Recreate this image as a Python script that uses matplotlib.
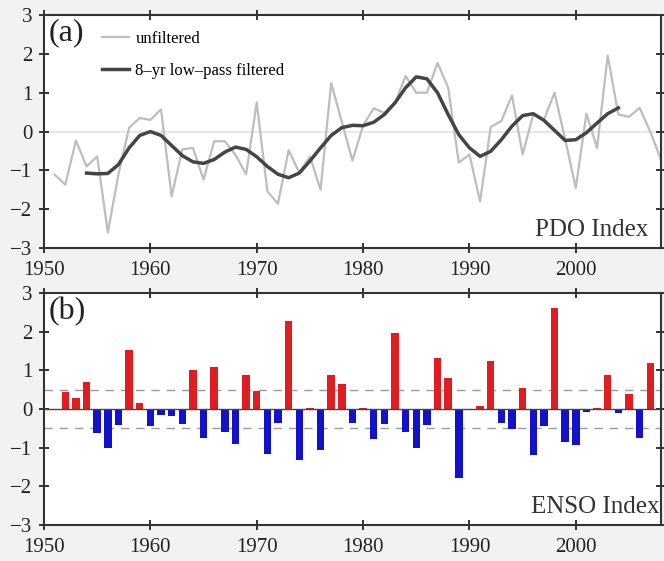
#!/usr/bin/env python3
"""PDO index (filtered / unfiltered) and ENSO index bars, two stacked panels."""
import matplotlib

matplotlib.use("Agg")
import matplotlib.pyplot as plt

pdo_years = list(range(1951, 2009))
pdo_raw = [
    -1.11, -1.37, -0.23, -0.90, -0.64, -2.60, -1.10, 0.10, 0.35, 0.30,
    0.57, -1.67, -0.46, -0.42, -1.24, -0.25, -0.25, -0.60, -1.10, 0.75,
    -1.54, -1.86, -0.48, -1.06, -0.64, -1.50, 1.25, 0.25, -0.75, 0.15,
    0.60, 0.48, 0.74, 1.43, 1.00, 1.00, 1.77, 1.13, -0.80, -0.59,
    -1.80, 0.12, 0.27, 0.93, -0.59, 0.44, 0.30, 1.00, -0.20, -1.45,
    0.46, -0.42, 1.96, 0.44, 0.38, 0.61, 0.00, -0.72,
]

filt_years = list(range(1954, 2005))
pdo_filtered = [
    -1.07, -1.09, -1.08, -0.85, -0.42, -0.10, 0.00, -0.10, -0.36, -0.62,
    -0.78, -0.82, -0.72, -0.53, -0.40, -0.46, -0.65, -0.90, -1.10, -1.19,
    -1.07, -0.76, -0.42, -0.10, 0.10, 0.16, 0.15, 0.24, 0.44, 0.74,
    1.13, 1.41, 1.36, 1.00, 0.44, -0.08, -0.42, -0.64, -0.51, -0.21,
    0.14, 0.41, 0.46, 0.29, 0.03, -0.23, -0.21, -0.03, 0.22, 0.46,
    0.61,
]

enso_years = list(range(1952, 2008))
enso = [
    0.44, 0.29, 0.70, -0.62, -1.01, -0.42, 1.52, 0.17, -0.43, -0.15,
    -0.19, -0.38, 1.00, -0.74, 1.09, -0.58, -0.90, 0.89, 0.48, -1.16,
    -0.36, 2.28, -1.32, 0.04, -1.07, 0.88, 0.66, -0.36, 0.04, -0.78,
    -0.39, 1.97, -0.58, -1.01, -0.42, 1.32, 0.80, -1.77, -0.02, 0.08,
    1.24, -0.36, -0.52, 0.55, -1.19, -0.43, 2.62, -0.84, -0.93, -0.08,
    0.03, 0.89, -0.10, 0.40, -0.74, 1.19,
]

year_ticks = [1950, 1960, 1970, 1980, 1990, 2000]
value_ticks = [-3, -2, -1, 0, 1, 2, 3]

plt.rcParams["font.family"] = ["Liberation Serif", "DejaVu Serif"]


def _style_axes(ax):
    ax.set_xlim(1950, 2008)
    ax.set_ylim(-3, 3)
    ax.set_xticks(year_ticks)
    ax.set_yticks(value_ticks)
    ax.set_yticklabels(["\u22123", "\u22122", "\u22121", "0", "1", "2", "3"])
    ax.tick_params(direction="inout", length=7, width=1.4, labelsize=15,
                   top=True, right=True, colors="#333333")
    ax.tick_params(axis="x", pad=6)
    ax.tick_params(axis="y", pad=5)
    ax.tick_params(labelcolor="#222222")
    for sp in ax.spines.values():
        sp.set_linewidth(1.5)
        sp.set_color("#333333")
    ax.set_facecolor("white")


fig = plt.figure(figsize=(6.64, 5.61), dpi=100, facecolor="#f2f2f2")
ax1 = fig.add_axes([0.0663, 0.558, 0.929, 0.415])
ax2 = fig.add_axes([0.0663, 0.064, 0.929, 0.4135])

# (a) PDO
ax1.axhline(0, color="#e4e4e4", lw=1.2, zorder=1)
ax1.plot(pdo_years, pdo_raw, color="#bdbdbd", lw=1.6, label="unfiltered", zorder=2)
ax1.plot(filt_years, pdo_filtered, color="#454545", lw=2.5,
         label="8\u2013yr low\u2013pass filtered", zorder=3)
_style_axes(ax1)
ax1.legend(loc="upper left", bbox_to_anchor=(0.078, 0.975), frameon=False,
           fontsize=12, handlelength=1.6, handletextpad=0.4, labelspacing=0.95,
           borderaxespad=0.2)
ax1.text(0.008, 0.985, "(a)", transform=ax1.transAxes, fontsize=23,
         ha="left", va="top", color="#222222")
ax1.text(0.98, 0.03, "PDO Index", transform=ax1.transAxes, fontsize=18,
         ha="right", va="bottom", color="#333333")

# (b) ENSO
colors = ["#e01e22" if v > 0 else "#1212cc" for v in enso]
ax2.bar(enso_years, enso, width=0.7, color=colors, zorder=2)
ax2.axhline(0, color="#444444", lw=1.0, zorder=3)
for lvl in (0.5, -0.5):
    ax2.axhline(lvl, color="#9a9a9a", lw=1.0, ls=(0, (6, 5)), zorder=1)
_style_axes(ax2)
ax2.text(0.008, 0.985, "(b)", transform=ax2.transAxes, fontsize=23,
         ha="left", va="top", color="#222222")
ax2.text(0.997, 0.03, "ENSO Index", transform=ax2.transAxes, fontsize=18,
         ha="right", va="bottom", color="#333333")

fig.savefig("out.png", dpi=100, facecolor=fig.get_facecolor())
